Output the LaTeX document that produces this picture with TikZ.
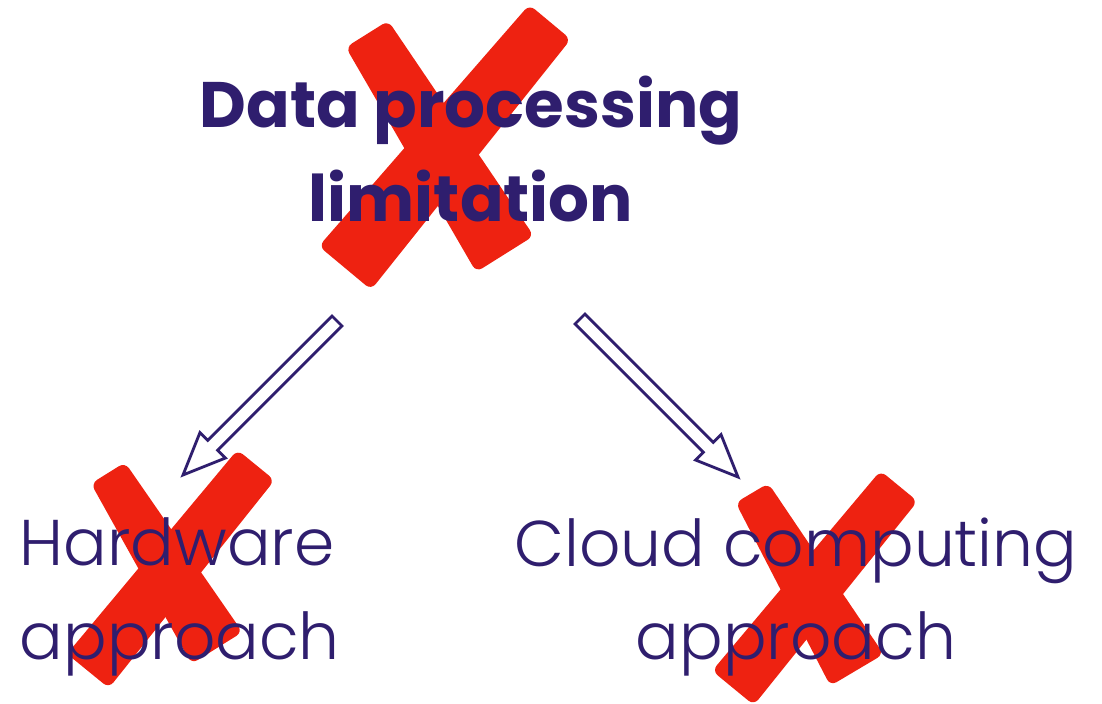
\documentclass[tikz,border=0pt]{standalone}
\usepackage{fontspec}
\setmainfont{Poppins}
\newfontfamily\lightfont{Poppins Light}
\usepackage{tikz}
\usetikzlibrary{calc, positioning}
\pgfdeclarelayer{background}
\pgfsetlayers{background,main}
\definecolor{ink}{RGB}{47,30,110}
\definecolor{xred}{RGB}{238,34,17}
\tikzstyle{head}   = [align=center, text=ink, inner sep=0pt, font=\fontsize{18.3}{26.5}\selectfont\bfseries]
\tikzstyle{option} = [text=ink, inner sep=0pt, font=\fontsize{18.4}{26.6}\selectfont\lightfont]
\tikzstyle{hollow} = [draw=ink, line width=0.8pt, fill=white, line join=miter,
  to path={($(\tikztotarget)!0.42cm!(\tikztostart)$) coordinate (hb)
    ($(\tikztostart)!0.07cm!90:(\tikztotarget)$) -- ($(hb)!0.07cm!90:(\tikztotarget)$)
    -- ($(hb)!0.18cm!90:(\tikztotarget)$) -- (\tikztotarget)
    -- ($(hb)!0.18cm!-90:(\tikztotarget)$) -- ($(hb)!0.07cm!-90:(\tikztotarget)$)
    -- ($(\tikztostart)!0.07cm!-90:(\tikztotarget)$) -- cycle}]
% one brush stroke: from, to, half width at from, half width at to
\newcommand{\brushstroke}[4]{%
  \fill[xred, rounded corners=2pt] ($(#1)!#3!90:(#2)$) -- ($(#1)!#3!-90:(#2)$)
    -- ($(#2)!#4!90:(#1)$) -- ($(#2)!#4!-90:(#1)$) -- cycle;}

\begin{document}
\begin{tikzpicture}
  \useasboundingbox (0,0) rectangle (11.02,7.04);

  \node (title) [head]   at (4.71,5.55) {Data processing\\limitation};
  \node (hw)    [option, align=left, anchor=west] at (0.19,1.07) {Hardware\\approach};
  \node (cloud) [option, align=center] at (7.96,1.07) {Cloud computing\\approach};

  \begin{pgfonlayer}{background}
    \brushstroke{3.67,6.70}{5.05,4.50}{0.25cm}{0.34cm}
    \brushstroke{5.50,6.82}{3.45,4.36}{0.27cm}{0.34cm}
    \brushstroke{1.08,2.31}{2.17,0.56}{0.20cm}{0.30cm}
    \brushstroke{2.56,2.39}{0.88,0.33}{0.24cm}{0.27cm}
    \brushstroke{7.52,2.11}{8.57,0.34}{0.19cm}{0.31cm}
    \brushstroke{8.99,2.18}{7.33,0.16}{0.24cm}{0.27cm}
  \end{pgfonlayer}

  \coordinate (ltail) at (3.37,3.83);
  \coordinate (ltip)  at (1.83,2.29);
  \coordinate (rtail) at (5.80,3.85);
  \coordinate (rtip)  at (7.38,2.27);

  \draw [hollow] (ltail) to (ltip);
  \draw [hollow] (rtail) to (rtip);
\end{tikzpicture}
\end{document}
